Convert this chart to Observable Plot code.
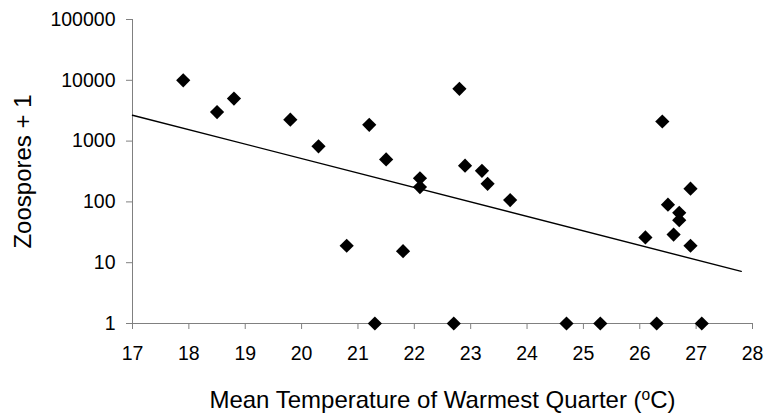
<!DOCTYPE html>
<html><head><meta charset="utf-8">
<script src="https://cdn.jsdelivr.net/npm/d3@7"></script>
<script src="https://cdn.jsdelivr.net/npm/@observablehq/plot@0.6"></script>
<style>
html,body{margin:0;padding:0;background:#fff;}
</style>
</head><body><div id="chart"></div>
<script>
const temperature = [17.9, 18.5, 18.8, 19.8, 20.3, 20.8, 21.2, 21.3, 21.5, 21.8, 22.1, 22.1, 22.7, 22.8, 22.9, 23.2, 23.3, 23.7, 24.7, 25.3, 26.1, 26.3, 26.4, 26.5, 26.6, 26.7, 26.7, 26.9, 26.9, 27.1];
const zoosporesPlusOne = [10000, 3000, 5000, 2250, 820, 19, 1850, 1, 500, 15.5, 245, 175, 1, 7250, 395, 325, 198, 107, 1, 1, 26, 1, 2100, 90, 29, 66, 50, 165, 19, 1];
const trendTemperature = [17, 27.8];
const trendZoospores = [2667, 7.2];
const xTicks = [17, 18, 19, 20, 21, 22, 23, 24, 25, 26, 27, 28];
const yTicks = [1, 10, 100, 1000, 10000, 100000];
const xTitle = "Mean Temperature of Warmest Quarter (oC)";
const yTitle = "Zoospores + 1";

const points = temperature.map((t, i) => ({t, z: zoosporesPlusOne[i]}));
const trend = trendTemperature.map((t, i) => ({t, z: trendZoospores[i]}));

const chart = Plot.plot({
  width: 765,
  height: 415,
  marginLeft: 132,
  marginRight: 13,
  marginTop: 19,
  marginBottom: 92,
  style: {fontFamily: "'Liberation Sans', Arial, sans-serif", fontSize: "19.5px", background: "#fff", color: "#000"},
  x: {domain: [17, 28]},
  y: {type: "log", domain: [1, 100000]},
  marks: [
    Plot.ruleX([17], {stroke: "#808080", strokeWidth: 1}),
    Plot.ruleY([1], {stroke: "#808080", strokeWidth: 1}),
    Plot.axisX({ticks: xTicks, tickSize: 6, tickPadding: 17, stroke: "#808080", fill: "#000", label: null, tickFormat: d => String(d)}),
    Plot.axisY({ticks: yTicks, tickSize: 6, tickPadding: 11, stroke: "#808080", fill: "#000", label: null, tickFormat: d => String(d)}),
    Plot.line(trend, {x: "t", y: "z", stroke: "#000", strokeWidth: 1.4}),
    Plot.dot(points, {x: "t", y: "z", symbol: "diamond2", r: 6.4, fill: "#000", stroke: "none"}),
    Plot.text([xTitle], {frameAnchor: "bottom", dy: 77, fontSize: 24, lineAnchor: "middle", textAnchor: "middle", fill: "#000"}),
    Plot.text([yTitle], {frameAnchor: "left", dx: -109, rotate: -90, fontSize: 24, lineAnchor: "middle", textAnchor: "middle", fill: "#000"})
  ]
});

// superscript "o" in the x-axis title
for (const el of chart.querySelectorAll("text")) {
  if (el.textContent === xTitle) {
    el.textContent = "";
    const ns = "http://www.w3.org/2000/svg";
    const a = document.createElementNS(ns, "tspan");
    a.textContent = "Mean Temperature of Warmest Quarter (";
    const b = document.createElementNS(ns, "tspan");
    b.textContent = "o";
    b.setAttribute("font-size", "0.65em");
    b.setAttribute("dy", "-0.5em");
    const c = document.createElementNS(ns, "tspan");
    c.textContent = "C)";
    c.setAttribute("dy", "0.33em");
    el.append(a, b, c);
  }
}
document.getElementById("chart").append(chart);
</script>
</body></html>
